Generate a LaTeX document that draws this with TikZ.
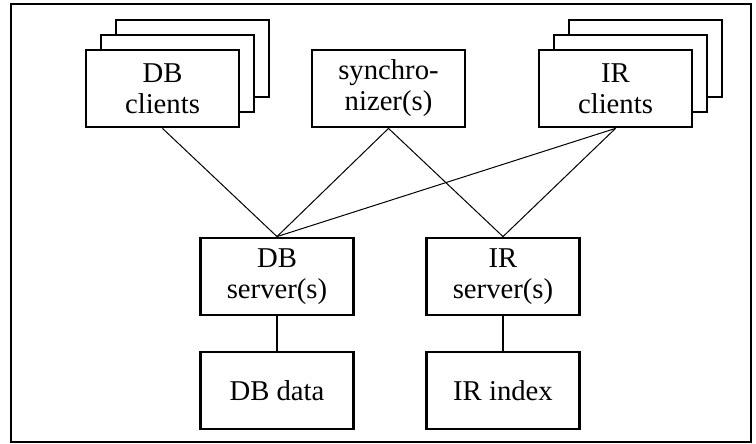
\documentclass[tikz,border=0pt]{standalone}
\usepackage{fontspec}
\setmainfont{Liberation Serif}
\begin{document}
\begin{tikzpicture}[x=1pt,y=-1pt,
  box/.style={draw,line width=2.8pt,fill=white,minimum width=153pt,minimum height=77pt,inner sep=0pt,align=center,font=\fontsize{28.7}{31}\selectfont},
  shadowbox/.style={draw,line width=2.8pt,fill=white,minimum width=153pt,minimum height=77pt,inner sep=0pt},
  thin/.style={line width=1pt},
  thick/.style={line width=2.6pt}]
\useasboundingbox (0,0) rectangle (756,444);
\node[draw,line width=2.4pt,minimum width=740pt,minimum height=438pt,inner sep=0pt] (frame) at (381,223) {};
% DB clients stack
\node[shadowbox] (dbc3) at (192.5,58.5) {};
\node[shadowbox] (dbc2) at (177.5,73.5) {};
\node[box] (dbc) at (162.5,88.5) {DB\\clients};
% synchronizer
\node[box] (sync) at (388.5,88.5) {synchro-\\nizer(s)};
% IR clients stack
\node[shadowbox] (irc3) at (645.5,58.5) {};
\node[shadowbox] (irc2) at (630.5,73.5) {};
\node[box] (irc) at (615.5,88.5) {IR\\clients};
% servers
\node[box] (dbs) at (277,276.5) {DB\\server(s)};
\node[box] (irs) at (503,276.5) {IR\\server(s)};
% data
\node[box] (dbd) at (277,390.5) {DB data};
\node[box] (iri) at (503,390.5) {IR index};
% connectors
\draw[thin] (dbc.south) -- (dbs.north);
\draw[thin] (sync.south) -- (dbs.north);
\draw[thin] (sync.south) -- (irs.north);
\draw[thin] (irc.south) -- (irs.north);
\draw[thin] (irc.south) -- (dbs.north);
\draw[thick] (dbs.south) -- (dbd.north);
\draw[thick] (irs.south) -- (iri.north);
\end{tikzpicture}
\end{document}
